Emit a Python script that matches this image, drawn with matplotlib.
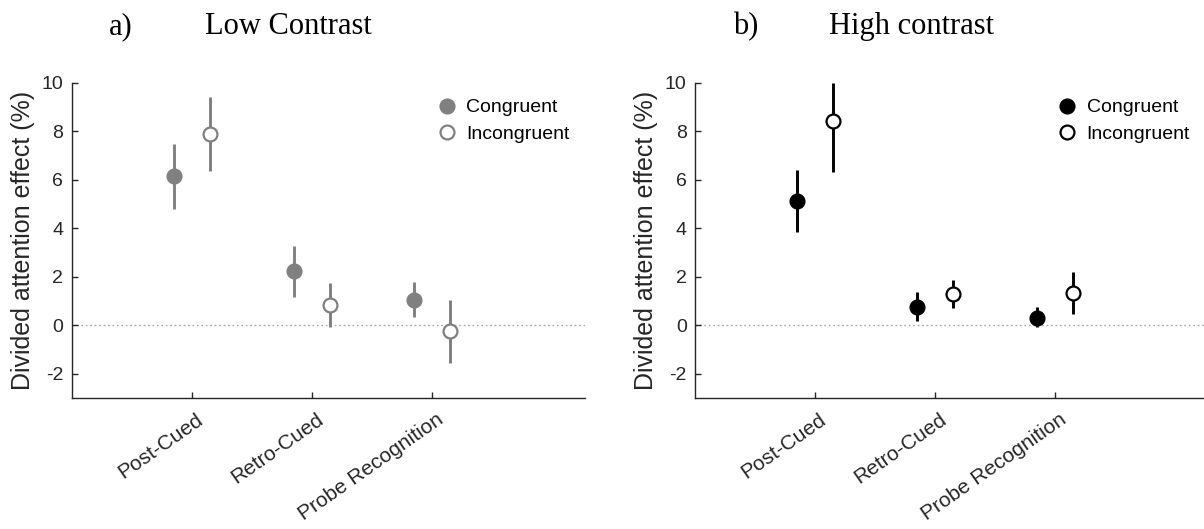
"""Divided attention effect: low vs high contrast, congruent vs incongruent."""

import matplotlib
matplotlib.use("Agg")
import matplotlib.pyplot as plt
import matplotlib.transforms as mtransforms
from matplotlib.lines import Line2D

plt.rcParams["font.family"] = ["Liberation Sans", "DejaVu Sans"]
plt.rcParams["axes.unicode_minus"] = False

CONDITIONS = ["Post-Cued", "Retro-Cued", "Probe Recognition"]

# panel a) low contrast
low_cong = [6.16, 2.23, 1.06]
low_cong_lo = [4.79, 1.17, 0.34]
low_cong_hi = [7.48, 3.28, 1.79]
low_incong = [7.89, 0.83, -0.25]
low_incong_lo = [6.38, -0.07, -1.54]
low_incong_hi = [9.41, 1.76, 1.03]

# panel b) high contrast
high_cong = [5.14, 0.76, 0.32]
high_cong_lo = [3.86, 0.18, -0.09]
high_cong_hi = [6.43, 1.36, 0.74]
high_incong = [8.42, 1.28, 1.34]
high_incong_lo = [6.34, 0.72, 0.46]
high_incong_hi = [9.98, 1.85, 2.19]

W, H = 1204, 529
OFFSET = 0.15
SPINE = "#262626"


def _panel(fig, ax, cong, cong_lo, cong_hi, inc, inc_lo, inc_hi, color, xmax):
    base = range(1, len(CONDITIONS) + 1)
    for vals, lo, hi, shift, face in [
        (cong, cong_lo, cong_hi, -OFFSET, color),
        (inc, inc_lo, inc_hi, OFFSET, "white"),
    ]:
        xs = [b + shift for b in base]
        ax.vlines(xs, lo, hi, color=color, linewidth=2.1, zorder=2)
        ax.plot(xs, vals, "o", linestyle="none", markersize=10,
                markerfacecolor=face, markeredgecolor=color,
                markeredgewidth=1.6, zorder=3)

    ax.axhline(0, color="#a6a6a6", linewidth=1.0, linestyle=(0, (1.2, 2)), zorder=1)
    ax.set_xlim(0, xmax)
    ax.set_ylim(-3, 10)
    ax.set_yticks(range(-2, 11, 2))
    ax.set_xticks(list(base))
    ax.set_xticklabels(CONDITIONS, rotation=35, ha="right", va="center",
                       rotation_mode="anchor", fontsize=15)
    ax.tick_params(direction="in", length=4, width=1.0, colors=SPINE,
                   labelsize=14, pad=6)
    ax.tick_params(axis="x", pad=14, labelsize=15)
    shift = mtransforms.ScaledTranslation(9 / 100, 0, fig.dpi_scale_trans)
    for lbl in ax.get_xticklabels():
        lbl.set_transform(lbl.get_transform() + shift)
    ax.set_ylabel("Divided attention effect (%)", fontsize=18, color=SPINE,
                  labelpad=5)
    for s in ["top", "right"]:
        ax.spines[s].set_visible(False)
    for s in ["left", "bottom"]:
        ax.spines[s].set_color(SPINE)
        ax.spines[s].set_linewidth(1.0)

    handles = [
        Line2D([], [], marker="o", linestyle="none", markersize=10,
               markerfacecolor=color, markeredgecolor=color, markeredgewidth=1.6),
        Line2D([], [], marker="o", linestyle="none", markersize=10,
               markerfacecolor="white", markeredgecolor=color, markeredgewidth=1.6),
    ]
    ax.legend(handles, ["Congruent", "Incongruent"], loc="upper left",
              bbox_to_anchor=(0.712, 0.95), frameon=False, fontsize=14,
              handlelength=1.0, handletextpad=0.5, labelspacing=0.45,
              borderaxespad=0, borderpad=0)


fig = plt.figure(figsize=(W / 100, H / 100), dpi=100)

y0 = 1 - 398 / H
h = (398 - 83) / H
ax_a = fig.add_axes([71.7 / W, y0, 513.3 / W, h])
ax_b = fig.add_axes([695 / W, y0, 509 / W, h])

_panel(fig, ax_a, low_cong, low_cong_lo, low_cong_hi,
       low_incong, low_incong_lo, low_incong_hi, "#808080", 4.27)
_panel(fig, ax_b, high_cong, high_cong_lo, high_cong_hi,
       high_incong, high_incong_lo, high_incong_hi, "black", 4.24)

serif = ["Liberation Serif", "DejaVu Serif"]
ty = 1 - 34 / H
fig.text(109 / W, ty, "a)", family=serif, fontsize=22, va="baseline")
fig.text(205 / W, ty, "Low Contrast", family=serif, fontsize=22, va="baseline")
fig.text(733 / W, ty, "b)", family=serif, fontsize=22, va="baseline")
fig.text(829 / W, ty, "High contrast", family=serif, fontsize=22, va="baseline")

fig.savefig("out.png", dpi=100)
